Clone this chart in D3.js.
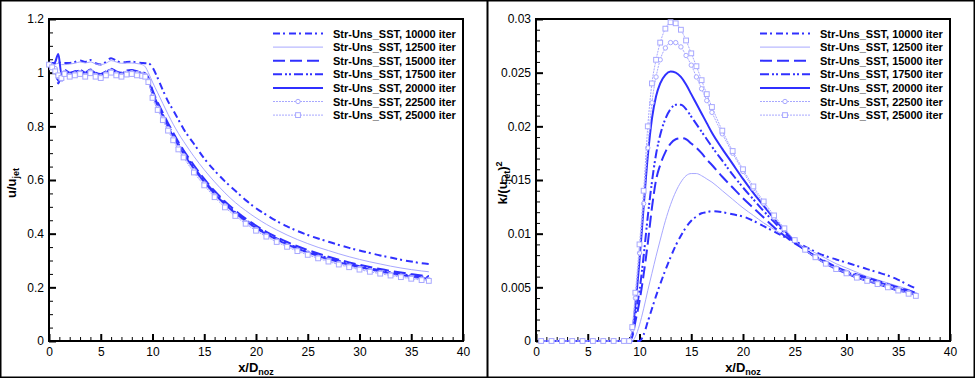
<!DOCTYPE html>
<html>
<head>
<meta charset="utf-8">
<script src="https://cdn.jsdelivr.net/npm/d3@7"></script>
<style>
body { margin: 0; background: #fff; }
svg text { font-family: "Liberation Sans", Arial, Helvetica, sans-serif; }
</style>
</head>
<body>
<div id="chart"></div>
<script>
// series names (legend)
const seriesNames = [
    "Str-Uns_SST, 10000 iter", "Str-Uns_SST, 12500 iter", "Str-Uns_SST, 15000 iter",
    "Str-Uns_SST, 17500 iter", "Str-Uns_SST, 20000 iter", "Str-Uns_SST, 22500 iter",
    "Str-Uns_SST, 25000 iter"
]

// left plot: u/u_jet
const xLeft = [0, 0.3, 0.6, 0.9, 1.2, 1.5, 2, 2.5, 3, 3.5, 4, 4.5, 5, 5.5, 6, 6.5, 7, 7.5, 8, 8.5, 9, 9.3, 9.6,
    10, 10.5, 11, 11.5, 12, 12.5, 13, 14, 15, 16, 17, 18, 19, 20, 21, 22, 23, 24, 25, 26, 27, 28, 29, 30,
    31, 32, 33, 34, 35, 36, 36.7]
const u10000 = [1.037, 1.036, 1.035, 1.040, 1.035, 1.036, 1.036, 1.040, 1.045, 1.040, 1.047, 1.035, 1.030, 1.040,
    1.054, 1.045, 1.037, 1.040, 1.041, 1.038, 1.036, 1.035, 1.035,
    1.020, 0.980, 0.935, 0.893, 0.860, 0.825, 0.790, 0.735, 0.680, 0.635, 0.595, 0.560, 0.525, 0.495, 0.470,
    0.447, 0.427, 0.410, 0.395, 0.382, 0.370, 0.358, 0.347, 0.337, 0.328, 0.319, 0.311, 0.303, 0.296, 0.290, 0.287]
const u12500 = [1.035, 1.033, 1.032, 1.035, 1.030, 1.030, 1.032, 1.035, 1.040, 1.036, 1.040, 1.033, 1.030, 1.035,
    1.045, 1.040, 1.035, 1.036, 1.036, 1.034, 1.030, 1.022, 1.000,
    0.965, 0.925, 0.885, 0.845, 0.808, 0.774, 0.744, 0.688, 0.638, 0.593, 0.552, 0.516, 0.486, 0.459, 0.435,
    0.414, 0.395, 0.378, 0.363, 0.349, 0.337, 0.325, 0.314, 0.304, 0.295, 0.287, 0.279, 0.272, 0.266, 0.261, 0.258]
const u15000 = [1.030, 1.028, 1.020, 0.970, 0.985, 1.010, 1.000, 1.005, 1.010, 1.000, 1.012, 1.000, 0.995, 1.005,
    1.015, 1.005, 1.000, 1.008, 1.010, 1.005, 1.002, 0.998, 0.982,
    0.935, 0.890, 0.850, 0.812, 0.776, 0.742, 0.711, 0.655, 0.604, 0.559, 0.520, 0.486, 0.456, 0.430, 0.407,
    0.387, 0.369, 0.353, 0.339, 0.326, 0.314, 0.303, 0.293, 0.284, 0.276, 0.268, 0.261, 0.255, 0.249, 0.244, 0.242]
const u17500 = [1.030, 1.025, 1.010, 0.960, 0.990, 1.005, 0.998, 1.003, 1.008, 0.998, 1.010, 0.998, 0.992, 1.003,
    1.012, 1.003, 0.998, 1.005, 1.008, 1.003, 1.000, 0.996, 0.978,
    0.928, 0.882, 0.843, 0.805, 0.769, 0.735, 0.704, 0.648, 0.598, 0.553, 0.514, 0.480, 0.451, 0.425, 0.402,
    0.382, 0.364, 0.348, 0.334, 0.321, 0.309, 0.298, 0.288, 0.279, 0.271, 0.263, 0.256, 0.250, 0.244, 0.240, 0.238]
const u20000 = [1.030, 1.030, 1.040, 1.070, 0.995, 1.000, 0.995, 1.000, 1.005, 0.995, 1.008, 0.995, 0.990, 1.000,
    1.010, 1.000, 0.995, 1.002, 1.005, 1.000, 0.998, 0.994, 0.975,
    0.920, 0.875, 0.838, 0.798, 0.762, 0.728, 0.698, 0.642, 0.592, 0.548, 0.510, 0.476, 0.447, 0.421, 0.398,
    0.378, 0.360, 0.344, 0.330, 0.317, 0.305, 0.294, 0.284, 0.275, 0.267, 0.259, 0.252, 0.246, 0.240, 0.235, 0.232]
const u22500 = [1.030, 1.025, 1.015, 0.985, 0.975, 1.000, 0.990, 0.995, 1.000, 0.990, 1.003, 0.990, 0.985, 0.995,
    1.005, 0.995, 0.990, 0.998, 1.000, 0.996, 0.993, 0.990, 0.970,
    0.913, 0.868, 0.830, 0.791, 0.755, 0.721, 0.691, 0.635, 0.586, 0.542, 0.504, 0.471, 0.442, 0.416, 0.393,
    0.373, 0.355, 0.339, 0.325, 0.312, 0.300, 0.289, 0.279, 0.270, 0.262, 0.255, 0.248, 0.242, 0.236, 0.231, 0.228]
const u25000 = [1.030, 1.020, 1.005, 0.990, 0.980, 0.995, 0.985, 0.990, 0.995, 0.985, 0.998, 0.985, 0.980, 0.990,
    1.000, 0.990, 0.985, 0.993, 0.995, 0.990, 0.988, 0.985, 0.965,
    0.906, 0.861, 0.823, 0.784, 0.748, 0.714, 0.684, 0.628, 0.580, 0.536, 0.498, 0.466, 0.437, 0.411, 0.389,
    0.369, 0.351, 0.335, 0.321, 0.308, 0.296, 0.285, 0.275, 0.266, 0.258, 0.251, 0.244, 0.238, 0.232, 0.227, 0.224]

// right plot: k/(u_jet)^2
const xRight = [0.5, 1.5, 2.5, 3.5, 4.5, 5.5, 6.5, 7.5, 8.5, 9, 9.3, 9.6, 10, 10.4, 10.8, 11.2, 11.6, 12, 12.5,
    13, 13.5, 14, 14.5, 15, 15.5, 16, 16.5, 17, 18, 19, 20, 21, 22, 23, 24, 25, 26, 27, 28, 29, 30, 31, 32, 33,
    34, 35, 36, 36.7]
const k10000 = [0, 0, 0, 0, 0, 0, 0, 0, 0, 0, 0, 0, 0, 0.0006, 0.0018, 0.0030, 0.0042, 0.0053, 0.0066, 0.0078,
    0.0089, 0.0098, 0.0106, 0.0112, 0.0116, 0.0119, 0.0120, 0.0121, 0.0120, 0.0118, 0.0116, 0.0112, 0.0107,
    0.0102, 0.0097, 0.0093, 0.0088, 0.0083, 0.0079, 0.0076, 0.0073, 0.0070, 0.0067, 0.0064, 0.0061, 0.0057,
    0.0052, 0.0049]
const k12500 = [0, 0, 0, 0, 0, 0, 0, 0, 0, 0, 0, 0.0004, 0.0015, 0.0030, 0.0047, 0.0063, 0.0079, 0.0094, 0.0112,
    0.0127, 0.0139, 0.0148, 0.0154, 0.0156, 0.0156, 0.0154, 0.0151, 0.0148, 0.0140, 0.0132, 0.0124, 0.0117,
    0.0110, 0.0104, 0.0098, 0.0092, 0.0087, 0.0082, 0.0077, 0.0072, 0.0068, 0.0064, 0.0060, 0.0057, 0.0054,
    0.0051, 0.0048, 0.0045]
const k15000 = [0, 0, 0, 0, 0, 0, 0, 0, 0, 0, 0.0004, 0.0018, 0.0037, 0.0062, 0.0091, 0.0124, 0.0150, 0.0164,
    0.0176, 0.0184, 0.0188, 0.0189, 0.0188, 0.0184, 0.0180, 0.0175, 0.0169, 0.0164, 0.0153, 0.0143, 0.0133,
    0.0124, 0.0115, 0.0106, 0.0098, 0.0091, 0.0085, 0.0079, 0.0074, 0.0069, 0.0065, 0.0062, 0.0059, 0.0056,
    0.0053, 0.0050, 0.0047, 0.0045]
const k17500 = [0, 0, 0, 0, 0, 0, 0, 0, 0, 0, 0.0006, 0.0024, 0.0047, 0.0079, 0.0116, 0.0148, 0.0174, 0.0192,
    0.0207, 0.0216, 0.0220, 0.0220, 0.0216, 0.0209, 0.0202, 0.0195, 0.0188, 0.0181, 0.0168, 0.0155, 0.0143,
    0.0132, 0.0121, 0.0111, 0.0101, 0.0092, 0.0085, 0.0079, 0.0073, 0.0068, 0.0064, 0.0061, 0.0058, 0.0055,
    0.0052, 0.0049, 0.0046, 0.0044]
const k20000 = [0, 0, 0, 0, 0, 0, 0, 0, 0, 0, 0.0008, 0.0033, 0.0075, 0.0125, 0.0172, 0.0207, 0.0228, 0.0240,
    0.0248, 0.0251, 0.0250, 0.0246, 0.0239, 0.0230, 0.0221, 0.0212, 0.0203, 0.0194, 0.0179, 0.0165, 0.0151,
    0.0138, 0.0126, 0.0114, 0.0103, 0.0093, 0.0085, 0.0078, 0.0072, 0.0067, 0.0063, 0.0059, 0.0056, 0.0053,
    0.0050, 0.0047, 0.0045, 0.0043]
const k22500 = [0, 0, 0, 0, 0, 0, 0, 0, 0, 0, 0.0011, 0.0040, 0.0082, 0.0128, 0.0180, 0.0222, 0.0246, 0.0262,
    0.0273, 0.0278, 0.0278, 0.0274, 0.0266, 0.0257, 0.0246, 0.0235, 0.0224, 0.0213, 0.0193, 0.0175, 0.0158,
    0.0142, 0.0128, 0.0115, 0.0104, 0.0094, 0.0085, 0.0078, 0.0072, 0.0068, 0.0064, 0.0060, 0.0057, 0.0054,
    0.0051, 0.0048, 0.0045, 0.0043]
const k25000 = [0, 0, 0, 0, 0, 0, 0, 0, 0, 0, 0.0013, 0.0045, 0.0090, 0.0140, 0.0200, 0.0240, 0.0262, 0.0278,
    0.0291, 0.0297, 0.0296, 0.0290, 0.0280, 0.0268, 0.0256, 0.0243, 0.0230, 0.0218, 0.0196, 0.0177, 0.0160,
    0.0144, 0.0130, 0.0117, 0.0105, 0.0094, 0.0085, 0.0078, 0.0072, 0.0067, 0.0063, 0.0059, 0.0056, 0.0053,
    0.0050, 0.0047, 0.0044, 0.0042]

const xTicks = [0, 5, 10, 15, 20, 25, 30, 35, 40]
const uTicks = [0, 0.2, 0.4, 0.6, 0.8, 1, 1.2]
const kTicks = [0, 0.005, 0.01, 0.015, 0.02, 0.025, 0.03]

// line styles, same order as seriesNames
const dark = "#3030ff", light = "#a8a8ff"
const styles = [
    {color: dark, width: 2, dash: "7,3,2,4"},
    {color: light, width: 1, dash: null},
    {color: dark, width: 2, dash: "12,5"},
    {color: dark, width: 2, dash: "9,3,2,2,2,3"},
    {color: dark, width: 2, dash: null},
    {color: light, width: 1, dash: "2,1", marker: "circle"},
    {color: light, width: 1, dash: "2,1", marker: "square"}
]

const width = 975
const height = 379

const svg = d3.select("#chart")
    .append("svg")
        .attr("width", width)
        .attr("height", height)

// outer frames
svg.append("rect")
    .attr("x", 0.75).attr("y", 0.75)
    .attr("width", width - 1.5).attr("height", height - 2.5)
    .attr("fill", "none").attr("stroke", "#000").attr("stroke-width", 1.5)
svg.append("line")
    .attr("x1", 487.5).attr("x2", 487.5).attr("y1", 0).attr("y2", height - 1.5)
    .attr("stroke", "#000").attr("stroke-width", 2)

function drawPanel(p) {
    const x = d3.scaleLinear().domain([0, 40]).range([p.left, p.left + 414])
    const y = d3.scaleLinear().domain([0, p.yMax]).range([341, 19])
    const g = svg.append("g")

    // minor ticks
    const xMinor = d3.range(0, 41, 1).filter(v => v % 5 !== 0)
    const yMinor = d3.range(0, p.yTicks.length - 1)
        .flatMap(i => d3.range(1, p.yMinorN + 1).map(j => p.yTicks[i] + (p.yTicks[i + 1] - p.yTicks[i]) * j / (p.yMinorN + 1)))
    g.append("g")
        .attr("transform", "translate(0,341)")
        .call(d3.axisBottom(x).tickValues(xMinor).tickSize(-4).tickFormat(""))
        .call(a => a.select(".domain").remove())
        .selectAll("line").attr("stroke-width", 1)
    g.append("g")
        .attr("transform", `translate(${p.left},0)`)
        .call(d3.axisLeft(y).tickValues(yMinor).tickSize(-4).tickFormat(""))
        .call(a => a.select(".domain").remove())
        .selectAll("line").attr("stroke-width", 1)

    // major ticks
    const xAxisGroup = g.append("g")
        .attr("transform", "translate(0,341)")
        .call(d3.axisBottom(x).tickValues(xTicks).tickSize(-7).tickPadding(6))
    const yAxisGroup = g.append("g")
        .attr("transform", `translate(${p.left},0)`)
        .call(d3.axisLeft(y).tickValues(p.yTicks).tickSize(-7).tickPadding(5)
            .tickFormat(d => String(+d.toFixed(4))))
    for (const a of [xAxisGroup, yAxisGroup]) {
        a.select(".domain").remove()
        a.selectAll("line").attr("stroke-width", 2)
        a.selectAll("text").attr("font-size", 12).attr("fill", "#000")
    }

    // frame
    g.append("rect")
        .attr("x", p.left).attr("y", 19)
        .attr("width", 414).attr("height", 322)
        .attr("fill", "none").attr("stroke", "#000").attr("stroke-width", 2)

    // curves
    const line = d3.line()
        .x(d => x(d[0]))
        .y(d => y(d[1]))
        .curve(d3.curveMonotoneX)
    const plot = g.append("g")
    p.data.forEach((vals, i) => {
        const st = styles[i]
        const pts = p.xs.map((xv, j) => [xv, vals[j]])
        plot.append("path")
            .datum(pts)
            .attr("fill", "none")
            .attr("stroke", st.color)
            .attr("stroke-width", st.width)
            .attr("stroke-dasharray", st.dash)
            .attr("d", line)
        if (st.marker) drawMarkers(plot, pts.map(d => [x(d[0]), y(d[1])]), st)
    })

    // legend
    const leg = g.append("g")
    seriesNames.forEach((name, i) => {
        const st = styles[i]
        const ly = 33.5 + i * 13.6
        leg.append("line")
            .attr("x1", p.left + 224).attr("x2", p.left + 274)
            .attr("y1", ly).attr("y2", ly)
            .attr("stroke", st.color)
            .attr("stroke-width", st.width)
            .attr("stroke-dasharray", st.dash)
        if (st.marker) drawMarkers(leg, [[p.left + 249, ly]], st)
        leg.append("text")
            .attr("x", p.left + 284).attr("y", ly + 4)
            .attr("font-size", 11).attr("font-weight", "bold")
            .text(name)
    })

    // x axis title
    const xt = g.append("text")
        .attr("x", p.left + 207).attr("y", 372)
        .attr("text-anchor", "middle")
        .attr("font-size", 13).attr("font-weight", "bold")
    xt.append("tspan").text("x/D")
    xt.append("tspan").attr("font-size", 9).attr("dy", 3).text("noz")

    // y axis title
    const yt = g.append("text")
        .attr("transform", `translate(${p.yTitleX},183) rotate(-90)`)
        .attr("text-anchor", "middle")
        .attr("font-size", 13).attr("font-weight", "bold")
    p.yTitle.forEach(part => {
        yt.append("tspan").attr("font-size", part.size || 13).attr("dy", part.dy || 0).text(part.t)
    })
}

function drawMarkers(sel, pts, st) {
    if (st.marker === "circle") {
        sel.append("g").selectAll("circle").data(pts).enter().append("circle")
            .attr("cx", d => d[0]).attr("cy", d => d[1]).attr("r", 2.2)
            .attr("fill", "#fff").attr("stroke", st.color).attr("stroke-width", 1)
    } else {
        sel.append("g").selectAll("rect").data(pts).enter().append("rect")
            .attr("x", d => d[0] - 2.4).attr("y", d => d[1] - 2.4)
            .attr("width", 4.8).attr("height", 4.8)
            .attr("fill", "#fff").attr("stroke", st.color).attr("stroke-width", 1)
    }
}

drawPanel({
    left: 49, yMax: 1.2, yTicks: uTicks, yMinorN: 3, xs: xLeft,
    data: [u10000, u12500, u15000, u17500, u20000, u22500, u25000],
    yTitleX: 16,
    yTitle: [{t: "u/u"}, {t: "jet", size: 9, dy: 3}]
})
drawPanel({
    left: 536, yMax: 0.03, yTicks: kTicks, yMinorN: 4, xs: xRight,
    data: [k10000, k12500, k15000, k17500, k20000, k22500, k25000],
    yTitleX: 507,
    yTitle: [{t: "k/(u"}, {t: "jet", size: 9, dy: 3}, {t: ")", dy: -3}, {t: "2", size: 9, dy: -5}]
})
</script>
</body>
</html>
